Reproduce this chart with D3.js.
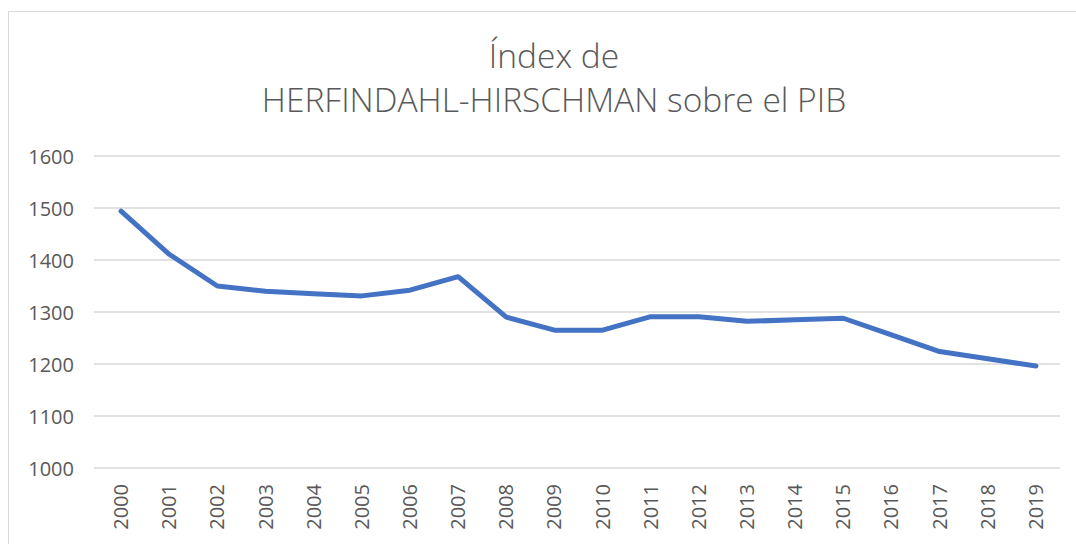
<!DOCTYPE html>
<html>
<head>
<meta charset="utf-8">
<script src="https://cdn.jsdelivr.net/npm/d3@7"></script>
<style>
  body { margin: 0; background: #fff; }
  text { font-family: "Open Sans", sans-serif; fill: #595959; }
</style>
</head>
<body>
<div id="chart"></div>
<script>
const width = 1076;
const height = 544;

// Chart data
const years = ['2000', '2001', '2002', '2003', '2004', '2005', '2006', '2007', '2008', '2009',
  '2010', '2011', '2012', '2013', '2014', '2015', '2016', '2017', '2018', '2019'];
const hhiValues = [1494, 1411, 1350, 1340, 1335, 1331, 1342, 1368, 1290, 1265,
  1265, 1291, 1291, 1282, 1285, 1288, 1256, 1224, 1210, 1196];
const yTicks = [1000, 1100, 1200, 1300, 1400, 1500, 1600];
const titleLines = ['Índex de', 'HERFINDAHL-HIRSCHMAN sobre el PIB'];

const plot = { left: 97, right: 1060, top: 156, bottom: 468 };

const svg = d3.select('#chart')
  .append('svg')
  .attr('width', width)
  .attr('height', height);

// Chart area border
svg.append('rect')
  .attr('x', 8.5)
  .attr('y', 11.5)
  .attr('width', 1100)
  .attr('height', 600)
  .attr('fill', '#fff')
  .attr('stroke', '#d9d9d9');

// Title
svg.append('text')
  .attr('text-anchor', 'middle')
  .style('font-size', '33.5px')
  .style('font-weight', 300)
  .selectAll('tspan')
  .data(titleLines)
  .enter()
  .append('tspan')
  .attr('x', 554)
  .attr('y', function (d, i) { return 68 + i * 44; })
  .text(function (d) { return d; });

const x = d3.scaleBand()
  .domain(years)
  .range([plot.left, plot.right]);

const y = d3.scaleLinear()
  .domain([1000, 1600])
  .range([plot.bottom, plot.top]);

// Gridlines
svg.append('g')
  .selectAll('line')
  .data(yTicks)
  .enter()
  .append('line')
  .attr('x1', 94)
  .attr('x2', plot.right)
  .attr('y1', function (d) { return y(d); })
  .attr('y2', function (d) { return y(d); })
  .attr('stroke', '#d9d9d9')
  .attr('stroke-width', 1.5);

// Y axis labels
const yAxis = svg.append('g')
  .attr('transform', 'translate(' + 74 + ',0)')
  .call(d3.axisLeft(y).tickValues(yTicks).tickFormat(d3.format('d')).tickSize(0).tickPadding(0));
yAxis.select('.domain').remove();
yAxis.selectAll('text')
  .style('font-size', '20px')
  .attr('dy', '0.35em');

// X axis labels, rotated
const xAxis = svg.append('g')
  .attr('transform', 'translate(0,' + plot.bottom + ')')
  .call(d3.axisBottom(x).tickSize(0).tickPadding(0));
xAxis.select('.domain').remove();
xAxis.selectAll('text')
  .style('font-size', '20px')
  .attr('text-anchor', 'end')
  .attr('transform', 'rotate(-90)')
  .attr('x', -16)
  .attr('y', 0)
  .attr('dy', '0.35em');

// Data line
const line = d3.line()
  .x(function (d, i) { return x(years[i]) + x.bandwidth() / 2; })
  .y(function (d) { return y(d); });

svg.append('path')
  .datum(hhiValues)
  .attr('d', line)
  .attr('fill', 'none')
  .attr('stroke', '#4472c4')
  .attr('stroke-width', 5)
  .attr('stroke-linejoin', 'round')
  .attr('stroke-linecap', 'round');
</script>
</body>
</html>
